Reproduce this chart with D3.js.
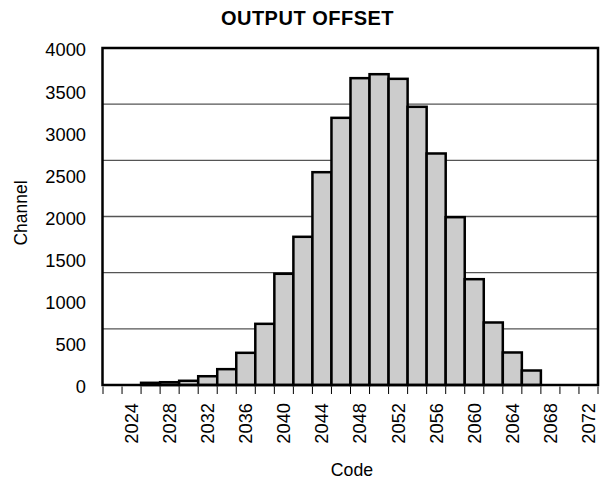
<!DOCTYPE html>
<html>
<head>
<meta charset="utf-8">
<script src="https://cdn.jsdelivr.net/npm/d3@7"></script>
<style>
  html, body { margin: 0; padding: 0; background: #fff; }
  svg { display: block; font-family: "Liberation Sans", Arial, Helvetica, sans-serif; }
</style>
</head>
<body>
<svg id="chart" width="600" height="480"></svg>
<script>
const title = "OUTPUT OFFSET";
const xTitle = "Code";
const yTitle = "Channel";
const codes = [2022,2024,2026,2028,2030,2032,2034,2036,2038,2040,2042,2044,2046,2048,2050,2052,2054,2056,2058,2060,2062,2064,2066,2068,2070,2072];
const counts = [0,0,26,33,50,104,188,382,726,1320,1759,2526,3171,3642,3689,3634,3302,2748,1992,1256,742,386,172,0,0,0];
const xTickLabels = [2024,2028,2032,2036,2040,2044,2048,2052,2056,2060,2064,2068,2072];
const yTicks = [0,500,1000,1500,2000,2500,3000,3500,4000];
const yDomain = [0, 4000];
const gridDivisions = 6;

const svg = d3.select("#chart");
const pLeft = 103, pRight = 598, pTop = 48, pBottom = 385;

const x = d3.scaleBand().domain(codes).range([pLeft, pRight]).padding(0);
const y = d3.scaleLinear().domain(yDomain).range([pBottom, pTop]);

// gridlines (plot divided into equal parts)
const gridVals = d3.range(1, gridDivisions).map(k => yDomain[1] * k / gridDivisions);
svg.append("g").selectAll("line").data(gridVals).join("line")
  .attr("x1", pLeft).attr("x2", pRight)
  .attr("y1", d => y(d)).attr("y2", d => y(d))
  .attr("stroke", "#555").attr("stroke-width", 1.3);

// bars
svg.append("g").selectAll("rect").data(codes.map((c, i) => ({c, v: counts[i]})).filter(d => d.v > 0)).join("rect")
  .attr("x", d => x(d.c))
  .attr("width", x.bandwidth())
  .attr("y", d => y(d.v))
  .attr("height", d => y(0) - y(d.v))
  .attr("fill", "#cccccc")
  .attr("stroke", "#000")
  .attr("stroke-width", 2.5);

// frame
svg.append("rect")
  .attr("x", pLeft - 0.5).attr("y", pTop)
  .attr("width", pRight - pLeft + 0.5).attr("height", pBottom - pTop)
  .attr("fill", "none").attr("stroke", "#000").attr("stroke-width", 2.5);

// x tick marks at band boundaries
const bounds = codes.map(c => x(c)).concat([x(codes[codes.length - 1]) + x.bandwidth()]);
svg.append("g").selectAll("line").data(bounds).join("line")
  .attr("x1", d => d).attr("x2", d => d)
  .attr("y1", pBottom + 1.5).attr("y2", pBottom + 9)
  .attr("stroke", "#000").attr("stroke-width", 1);

// x tick labels (rotated)
svg.append("g").selectAll("text").data(xTickLabels).join("text")
  .attr("transform", d => `translate(${x(d) + x.bandwidth() / 2},403) rotate(-90)`)
  .attr("text-anchor", "end")
  .attr("dy", "0.35em")
  .attr("font-size", 18.3)
  .attr("fill", "#000")
  .text(d => d);

// y tick labels
svg.append("g").selectAll("text").data(yTicks).join("text")
  .attr("x", 86)
  .attr("y", d => y(d) + 2)
  .attr("dy", "0.35em")
  .attr("text-anchor", "end")
  .attr("font-size", 18.3)
  .attr("fill", "#000")
  .text(d => d);

// titles
svg.append("text").attr("x", 307.5).attr("y", 25)
  .attr("text-anchor", "middle").attr("font-size", 20).attr("font-weight", "bold")
  .attr("letter-spacing", 0.5)
  .text(title);
svg.append("text").attr("x", 352).attr("y", 476)
  .attr("text-anchor", "middle").attr("font-size", 17.7)
  .text(xTitle);
svg.append("text")
  .attr("transform", "translate(27,213) rotate(-90)")
  .attr("text-anchor", "middle").attr("font-size", 17.5)
  .text(yTitle);
</script>
</body>
</html>
